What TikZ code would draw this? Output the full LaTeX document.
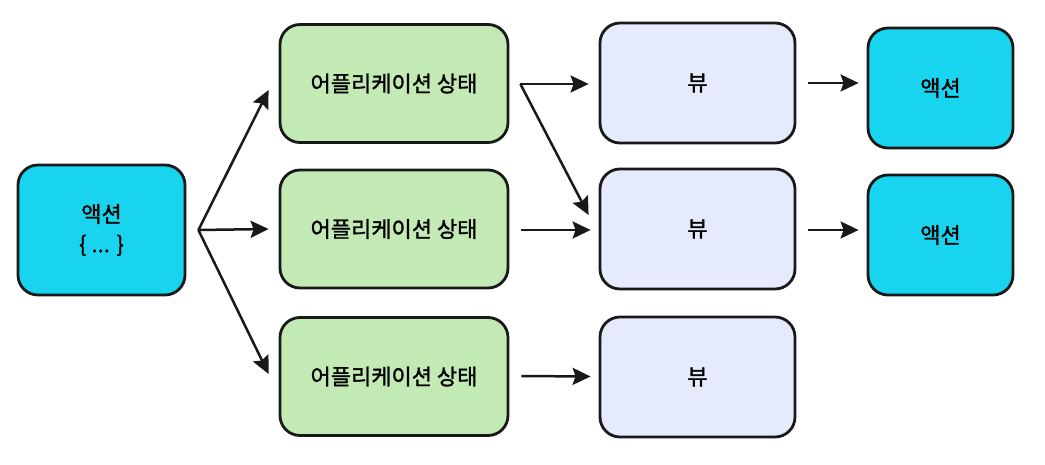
\documentclass[tikz,border=0pt]{standalone}
\usepackage{fontspec}
\newfontfamily\kr{Noto Sans CJK KR}[FakeBold=1.3]
\usetikzlibrary{arrows.meta}
\definecolor{actfill}{RGB}{24,212,238}
\definecolor{appfill}{RGB}{195,233,181}
\definecolor{viewfill}{RGB}{229,235,252}
\begin{document}
\begin{tikzpicture}[x=1pt,y=-1pt,
  box/.style={draw=black!90, line width=2.8pt, rounded corners=20pt, inner sep=0pt,
    font=\kr\fontsize{22}{30}\selectfont, align=center},
  actbox/.style={box, fill=actfill},
  appbox/.style={box, fill=appfill, minimum width=228pt, minimum height=118pt},
  viewbox/.style={box, fill=viewfill, minimum width=195pt, minimum height=120pt},
  conn/.style={line width=2.5pt, black!90, -{Stealth[length=18pt,width=17pt,inset=3pt]}}]
\useasboundingbox (0,0) rectangle (1045,464);
\node[actbox, minimum width=167pt, minimum height=130pt] (act) at (101.5,230) {액션\\\{ ... \}};
\node[appbox] (app1) at (394,83.5) {어플리케이션 상태};
\node[appbox] (app2) at (394,229) {어플리케이션 상태};
\node[appbox] (app3) at (394,376.5) {어플리케이션 상태};
\node[viewbox] (view1) at (697.5,83) {뷰};
\node[viewbox] (view2) at (697.5,229) {뷰};
\node[viewbox] (view3) at (697.5,377) {뷰};
\node[actbox, minimum width=145pt, minimum height=120pt] (out1) at (940.5,88) {액션};
\node[actbox, minimum width=145pt, minimum height=120pt] (out2) at (940.5,235) {액션};
% fan from action
\coordinate (fan) at ([xshift=12pt]act.east);
\coordinate (t1) at ([xshift=-10pt,yshift=-6.5pt]app1.west);
\coordinate (t2) at ([xshift=-10pt]app2.west);
\coordinate (t3) at ([xshift=-10pt,yshift=2.5pt]app3.west);
\draw[conn] (fan) -- (t1);
\draw[conn] (fan) -- (t2);
\draw[conn] (fan) -- (t3);
% app to view
\coordinate (s1) at ([xshift=11pt,yshift=-0.5pt]app1.east);
\draw[conn] (s1) -- ([xshift=-10pt,yshift=-1pt]view1.west);
\draw[conn] (s1) -- ([xshift=-10pt,yshift=14pt]view2.west);
\draw[conn] ([xshift=12pt,yshift=-1pt]app2.east) -- ([xshift=-8pt,yshift=-1pt]view2.west);
\draw[conn] ([xshift=12pt,yshift=0.5pt]app3.east) -- ([xshift=-8pt,yshift=0.5pt]view3.west);
% view to action
\draw[conn] ([xshift=12pt]view1.east) -- ([xshift=-8pt,yshift=5pt]out1.west);
\draw[conn] ([xshift=12pt,yshift=-1pt]view2.east) -- ([xshift=-8pt,yshift=5pt]out2.west);
\end{tikzpicture}
\end{document}
